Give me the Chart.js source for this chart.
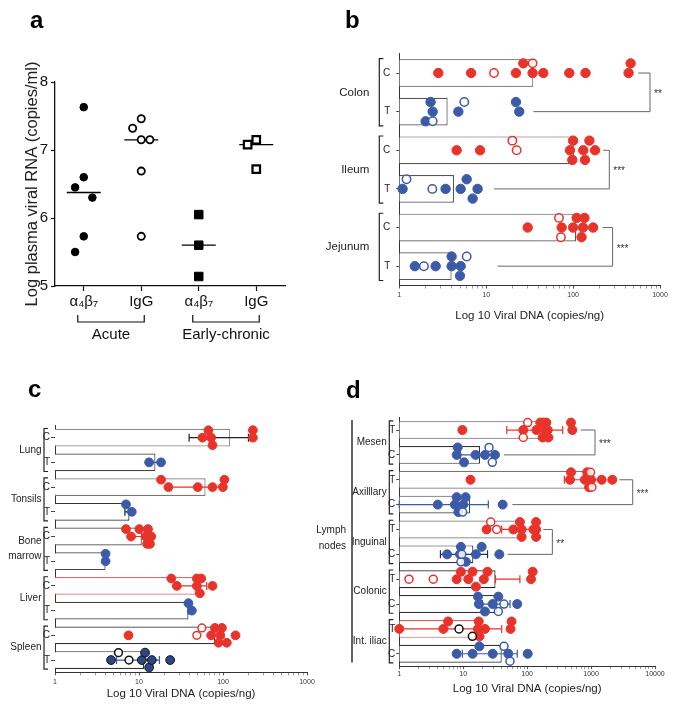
<!DOCTYPE html>
<html>
<head>
<meta charset="utf-8">
<script src="https://cdn.jsdelivr.net/npm/chart.js@4.4.1/dist/chart.umd.min.js"></script>
<style>
  html, body { margin: 0; padding: 0; background: #fff; }
  body { width: 678px; height: 714px; position: relative; overflow: hidden; }
  canvas { position: absolute; }
</style>
</head>
<body>
<canvas id="chartA" width="340" height="345" style="left:0px;top:0px"></canvas>
<canvas id="chartB" width="358" height="345" style="left:320px;top:0px"></canvas>
<canvas id="chartC" width="340" height="364" style="left:0px;top:350px"></canvas>
<canvas id="chartD" width="378" height="364" style="left:300px;top:350px"></canvas>
<script>
/* ===========================
   DATA
=========================== */
// a) plasma viral RNA (log copies/ml)
const aCategories = ["α₄β₇", "IgG", "α₄β₇", "IgG"];
const aPhases = ["Acute", "Early-chronic"];
const aYTicks = [5, 6, 7, 8];
const aAcuteA4b7 = [7.63, 6.6, 6.45, 6.3, 5.73, 5.5];
const aAcuteIgG = [7.46, 7.32, 7.15, 7.15, 6.69, 5.73];
const aChronicA4b7 = [6.05, 5.6, 5.14];
const aChronicIgG = [7.15, 7.08, 6.72];

// b) gut tissues (copies/ng)
const bRows = ["C", "T", "C", "T", "C", "T"];
const bGroups = ["Colon", "Ileum", "Jejunum"];
const bTicks = [1, 10, 100, 1000];
const bBars = [34.8, 3.6, 102, 4.26, 108, 4.0];
const bFilled = [
  [2.81, 6.7, 22, 26.7, 34.2, 45.4, 90.4, 139, 435, 459],
  [2.42, 2.29, 2.01, 4.78, 24, 22],
  [4.57, 8.5, 92, 100, 98, 131, 154, 137, 179],
  [1.09, 3.41, 5.08, 7.96, 5.96, 6.98],
  [30, 73.8, 100, 110, 125, 130, 170, 135],
  [1.51, 2.62, 4.0, 4.0, 5.08, 4.99]
];
const bOpen = [[12.3, 34.2], [2.42, 5.6], [22.4, 20], [1.21, 2.4], [68.8, 72.5], [1.92, 5.96]];
const bSigRows = [[0, 1], [2, 3], [4, 5]];
const bSigFrom = [[562, 34.8], [222, 12.3], [219, 13.5]];
const bSigTo = [767, 261, 285];
const bSigText = ["**", "***", "***"];

// c) other tissues (copies/ng)
const cRows = ["C", "T", "C", "T", "C", "T", "C", "T", "C", "T"];
const cGroups = ["Lung", "Tonsils", ["Bone", "marrow"], "Liver", "Spleen"];
const cTicks = [1, 10, 100, 1000];
const cBars = [122, 15.7, 62, 7.7, 10.8, 4.0, 47.5, 38.8, 80.7, 11.5];
const cFilled = [
  [72.3, 67, 57, 75, 227, 227],
  [13.2, 18.3],
  [22.4, 18.3, 50, 75, 99.6, 104],
  [8.2, 7.0],
  [8.05, 7.0, 10.1, 12, 12.8, 13.5, 14, 12.5],
  [4.0, 4.0],
  [28.2, 24.2, 48.8, 55, 53, 75, 48.8],
  [42.6, 38.8],
  [7.5, 72.3, 80, 88.5, 93, 97, 111, 141],
  [4.65, 10.8, 11.8, 13.2, 14.2, 23.5]
];
const cOpen = [[], [], [], [], [], [], [], [], [48.8, 56], [5.7, 7.6]];
const cErr = [[39.5, 201], [12.5, 18.5], [24, 100], [6.8, 8.2], [7.8, 12.5], null, [28, 64], [38.5, 43], null, [5.4, 17.5]];

// d) lymph nodes (copies/ng)
const dRows = ["T", "C", "T", "C", "T", "C", "T", "C", "T", "C"];
const dGroups = ["Mesen", "Axilllary", "Inguinal", "Colonic", "Int. iliac"];
const dTicks = [1, 10, 100, 1000, 10000];
const dBars = [169, 18.3, 906, 12.8, 84, 14.4, 32, 34, 17.9, 40];
const dFilled = [
  [9.7, 87, 140, 160, 175, 190, 200, 215, 180, 210, 509, 485],
  [7.9, 8.2, 10.3, 15.6, 21.9, 31.4],
  [13, 468, 485, 800, 870, 930, 1000, 1465, 2150],
  [4.0, 7.4, 7.9, 8.4, 10, 10.9, 41.4],
  [23.2, 60.8, 77, 82, 82, 125, 138, 138, 138],
  [5.6, 8.9, 9.2, 11, 15.8, 19.4, 36.7],
  [7.9, 9.2, 12, 14, 15.8, 21, 24, 115, 122],
  [17.6, 17.0, 21.9, 28.9, 35.4, 70],
  [1.0, 4.9, 5.8, 17, 17.5, 18, 21.9, 55, 57],
  [7.9, 14, 17.9, 28.9, 50.7, 102]
];
const dOpen = [[102, 87], [25.3, 28.5], [980, 1030], [9.8], [26.9, 33.3], [9.2, 9.5], [1.42, 3.4], [35.4, 43.4], [8.6, 13.9], [43.4, 53.9]];
const dErr = [[48, 360], [9, 28], [382, 1430], [1, 24.7], [40, 125], [4.4, 24], [32, 77], [20, 54], [1, 40], [9.7, 70]];
const dSigRows = [[0, 1], [2, 3], [4, 5]];
const dSigFrom = [[687, 43.4], [2768, 58.6], [179, 49.5]];
const dSigTo = [1152, 4478, 248];
const dSigText = ["***", "***", "**"];

/* ===========================
   STYLE
=========================== */
const SANS = "'Liberation Sans', Arial, sans-serif";
const RED = "#e8332b";
const BLUE = "#3b5ba8";
const NAVY = "#2b4886";
const INK = "#222";

Chart.defaults.font.family = SANS;
Chart.defaults.color = INK;
Chart.defaults.animation = false;

// spread overlapping dots over three lanes (centre, one side, other side)
function pickLanes(values, gap) {
  const order = [0, -1, 1];
  const taken = [[], [], []];
  return values.map(v => {
    let pick = 0, room = -1;
    for (let k = 0; k < order.length; k++) {
      let near = Infinity;
      taken[k].forEach(w => { near = Math.min(near, Math.abs(v - w)); });
      if (near >= gap) { pick = k; break; }
      if (near > room) { room = near; pick = k; }
    }
    taken[pick].push(v);
    return order[pick];
  });
}

function median(arr) {
  const s = [...arr].sort((p, q) => p - q);
  const m = Math.floor(s.length / 2);
  return s.length % 2 ? s[m] : (s[m - 1] + s[m]) / 2;
}

function logTicks(labels) {
  const out = [];
  for (let i = 0; i < labels.length - 1; i++) {
    for (let m = 1; m < 10; m++) out.push({ value: labels[i] * m });
  }
  out.push({ value: labels[labels.length - 1] });
  return out;
}

function drawLetter(ctx, letter, x, y) {
  ctx.save();
  ctx.font = "bold 24px " + SANS;
  ctx.fillStyle = "#000";
  ctx.textBaseline = "alphabetic";
  ctx.fillText(letter, x, y);
  ctx.restore();
}

/* ===========================
   PANEL a
=========================== */
function swarmX(values, cat) {
  const lanes = pickLanes(values, 0.35);
  return values.map((v, i) => ({ x: cat + lanes[i] * 0.15, y: v }));
}

const aExtras = {
  id: "aExtras",
  afterDraw(chart) {
    const { ctx, chartArea, scales: { x } } = chart;
    drawLetter(ctx, "a", 30, 28);
    ctx.save();
    ctx.strokeStyle = "#111";
    ctx.lineWidth = 1.2;
    ctx.fillStyle = "#111";
    ctx.font = "15px " + SANS;
    ctx.textAlign = "center";
    ctx.textBaseline = "middle";
    aPhases.forEach((phase, p) => {
      const x1 = x.getPixelForValue(2 * p + 1) - 6;
      const x2 = x.getPixelForValue(2 * p + 2) + 3;
      const top = chartArea.bottom + 29, low = chartArea.bottom + 36;
      ctx.beginPath();
      ctx.moveTo(x1, top); ctx.lineTo(x1, low); ctx.lineTo(x2, low); ctx.lineTo(x2, top);
      ctx.stroke();
      ctx.fillText(phase, (x1 + x2) / 2, chartArea.bottom + 49);
    });
    ctx.restore();
  }
};

new Chart(document.getElementById("chartA"), {
  type: "scatter",
  data: {
    datasets: [
      { data: swarmX(aAcuteA4b7, 1), pointStyle: "circle", pointRadius: 3.8,
        pointBackgroundColor: "#000", pointBorderColor: "#000", pointBorderWidth: 1, clip: false },
      { data: swarmX(aAcuteIgG, 2), pointStyle: "circle", pointRadius: 3.6,
        pointBackgroundColor: "#fff", pointBorderColor: "#000", pointBorderWidth: 1.8, clip: false },
      { data: swarmX(aChronicA4b7, 3), pointStyle: "rect", pointRadius: 6,
        pointBackgroundColor: "#000", pointBorderColor: "#000", pointBorderWidth: 1, clip: false },
      { data: swarmX(aChronicIgG, 4), pointStyle: "rect", pointRadius: 5.3,
        pointBackgroundColor: "#fff", pointBorderColor: "#000", pointBorderWidth: 2.2, clip: false },
      { data: [aAcuteA4b7, aAcuteIgG, aChronicA4b7, aChronicIgG].map((g, i) => ({ x: i + 1, y: median(g) })),
        pointStyle: "line", pointRadius: 17, pointBorderColor: "#000", pointBorderWidth: 1.3, clip: false }
    ]
  },
  options: {
    responsive: false,
    devicePixelRatio: 1,
    layout: { padding: { left: 0, top: 82, right: 55, bottom: 0 } },
    plugins: { legend: { display: false }, tooltip: { enabled: false } },
    scales: {
      x: {
        type: "linear", min: 0.5, max: 4.5,
        afterBuildTicks: s => { s.ticks = aCategories.map((_, i) => ({ value: i + 1 })); },
        afterFit: s => { s.height = 59; },
        ticks: { callback: v => aCategories[v - 1], autoSkip: false, maxRotation: 0,
                 font: { size: 15 }, color: "#111", padding: 2 },
        grid: { display: true, drawOnChartArea: false, tickLength: 5, color: "#111", tickWidth: 1.2 },
        border: { display: true, color: "#111", width: 1.3 }
      },
      y: {
        type: "linear", min: 5, max: 8,
        afterBuildTicks: s => { s.ticks = aYTicks.map(v => ({ value: v })); },
        afterFit: s => { s.width = 55; },
        ticks: { font: { size: 15 }, color: "#111", padding: 3 },
        grid: { display: true, drawOnChartArea: false, tickLength: 4, color: "#111", tickWidth: 1.2 },
        border: { display: true, color: "#111", width: 1.3 },
        title: { display: true, text: "Log plasma viral RNA (copies/ml)", color: "#222",
                 font: { size: 16.5 }, padding: { top: 23, bottom: 0 } }
      }
    }
  },
  plugins: [aExtras]
});

/* ===========================
   PANELS b, c, d (dot plots on log axis)
=========================== */
function buildDotPanel(canvasId, p) {
  const datasets = [];
  // 1) mean bars, drawn underneath
  datasets.push({
    type: "bar",
    data: p.bars.map((v, i) => ({ x: v, y: i })),
    backgroundColor: "#fff",
    borderColor: p.barBorder,
    borderWidth: 1.2,
    barPercentage: 0.72,
    categoryPercentage: 1,
    order: 10
  });
  // 2) individual animals, filled and open symbols
  p.rows.forEach((row, i) => {
    const all = p.filled[i].concat(p.open[i]);
    const lanes = pickLanes(all.map(Math.log10), p.gap);
    const pts = all.map((v, k) => ({ x: v, y: i + lanes[k] * p.laneStep }));
    const nFilled = p.filled[i].length;
    datasets.push({
      type: "scatter", data: pts.slice(0, nFilled), pointRadius: p.radius,
      pointBackgroundColor: p.dotColor[i], pointBorderColor: p.dotEdge[i], pointBorderWidth: 1,
      clip: false, order: 1
    });
    if (p.open[i].length) {
      datasets.push({
        type: "scatter", data: pts.slice(nFilled), pointRadius: p.radius - 0.5,
        pointBackgroundColor: "rgba(255,255,255,0.85)", pointBorderColor: p.openColor[i], pointBorderWidth: 1.5,
        clip: false, order: 0
      });
    }
  });

  const extras = {
    id: "extras_" + canvasId,
    afterDatasetDraw(chart, args) {
      if (args.index !== 0) return;
      const { ctx, scales: { x, y } } = chart;
      ctx.save();
      ctx.lineWidth = 1.2;
      p.err.forEach((e, i) => {
        if (!e) return;
        const yy = y.getPixelForValue(i);
        const x1 = x.getPixelForValue(e[0]), x2 = x.getPixelForValue(e[1]);
        ctx.strokeStyle = p.errColor[i];
        ctx.beginPath();
        ctx.moveTo(x1, yy); ctx.lineTo(x2, yy);
        ctx.moveTo(x1, yy - 4); ctx.lineTo(x1, yy + 4);
        ctx.moveTo(x2, yy - 4); ctx.lineTo(x2, yy + 4);
        ctx.stroke();
      });
      ctx.restore();
    },
    afterDraw(chart) {
      const { ctx, chartArea, scales: { x, y } } = chart;
      drawLetter(ctx, p.letter[0], p.letter[1], p.letter[2]);
      ctx.save();
      // group brackets and names
      const bx = chartArea.left - p.bracketGap;
      ctx.strokeStyle = "#222";
      ctx.lineWidth = 1.2;
      ctx.fillStyle = INK;
      ctx.font = p.groupFont + "px " + SANS;
      ctx.textAlign = "right";
      ctx.textBaseline = "middle";
      p.groups.forEach((name, g) => {
        const top = y.getPixelForValue(2 * g - 0.37);
        const bot = y.getPixelForValue(2 * g + 1.37);
        ctx.beginPath();
        ctx.moveTo(bx + 4, top); ctx.lineTo(bx, top); ctx.lineTo(bx, bot); ctx.lineTo(bx + 4, bot);
        ctx.stroke();
        const mid = (y.getPixelForValue(2 * g) + y.getPixelForValue(2 * g + 1)) / 2;
        const lines = Array.isArray(name) ? name : [name];
        lines.forEach((t, k) => {
          ctx.fillText(t, bx - p.labelGap, mid + (k - (lines.length - 1) / 2) * 15);
        });
      });
      // outer label (lymph nodes)
      if (p.outer) {
        const ox = p.outer.x;
        ctx.lineWidth = 1.4;
        ctx.beginPath();
        ctx.moveTo(ox, y.getPixelForValue(-0.4));
        ctx.lineTo(ox, y.getPixelForValue(p.rows.length - 0.65));
        ctx.stroke();
        const mid = (y.getPixelForValue(0) + y.getPixelForValue(p.rows.length - 1)) / 2 - 4;
        p.outer.lines.forEach((t, k) => ctx.fillText(t, ox - 6, mid + (k - 0.5) * 16));
      }
      // significance brackets
      ctx.strokeStyle = "#666";
      ctx.lineWidth = 1;
      ctx.textAlign = "left";
      ctx.font = "10px " + SANS;
      ctx.fillStyle = "#333";
      p.sigRows.forEach((pair, k) => {
        const y0 = y.getPixelForValue(pair[0]), y1 = y.getPixelForValue(pair[1]);
        const xa = x.getPixelForValue(p.sigFrom[k][0]), xb = x.getPixelForValue(p.sigFrom[k][1]);
        const xt = x.getPixelForValue(p.sigTo[k]);
        ctx.beginPath();
        ctx.moveTo(xa, y0); ctx.lineTo(xt, y0); ctx.lineTo(xt, y1); ctx.lineTo(xb, y1);
        ctx.stroke();
        ctx.fillText(p.sigText[k], xt + 4, (y0 + y1) / 2 + 2);
      });
      ctx.restore();
    }
  };

  return new Chart(document.getElementById(canvasId), {
    type: "bar",
    data: { datasets },
    options: {
      responsive: false,
      devicePixelRatio: 1,
      indexAxis: "y",
      layout: { padding: { left: 0, top: p.box.top, right: p.box.right, bottom: 0 } },
      plugins: { legend: { display: false }, tooltip: { enabled: false } },
      scales: {
        x: {
          type: "logarithmic", min: p.xTicks[0], max: p.xTicks[p.xTicks.length - 1],
          afterBuildTicks: s => { s.ticks = logTicks(p.xTicks); },
          afterFit: s => { s.height = p.box.xAxisH; },
          ticks: { callback: v => (p.xTicks.includes(v) ? String(v) : ""), autoSkip: false, maxRotation: 0,
                   font: { size: 7 }, color: "#333", padding: p.box.tickPad },
          grid: { display: true, drawOnChartArea: false, tickLength: 3, color: "#555",
                  tickWidth: c => (c.tick && p.xTicks.includes(c.tick.value) ? 1.1 : 0.6) },
          border: { display: true, color: "#333", width: 1 },
          title: { display: true, text: "Log 10 Viral DNA (copies/ng)", color: "#222",
                   font: { size: 11.5 }, padding: { top: 0, bottom: p.box.titlePad } }
        },
        y: {
          type: "linear", min: -0.5, max: p.rows.length - 0.5, reverse: true, offset: false,
          afterBuildTicks: s => { s.ticks = p.rows.map((_, i) => ({ value: i })); },
          afterFit: s => { s.width = p.box.yAxisW; },
          ticks: { callback: v => p.rows[v], autoSkip: false, font: { size: 10 },
                   color: INK, padding: p.rowPad },
          grid: { display: true, drawOnChartArea: false, offset: false, tickLength: p.rowTick, color: "#444" },
          border: { display: true, color: "#333", width: 1 }
        }
      }
    },
    plugins: [extras]
  });
}

const rowColour = (rows, redRow) => rows.map(r => (r === redRow ? RED : BLUE));

buildDotPanel("chartB", {
  letter: ["b", 25, 28],
  rows: bRows, groups: bGroups, bars: bBars, filled: bFilled, open: bOpen,
  err: [], errColor: [],
  sigRows: bSigRows, sigFrom: bSigFrom, sigTo: bSigTo, sigText: bSigText,
  xTicks: bTicks,
  dotColor: rowColour(bRows, "C"), dotEdge: rowColour(bRows, "C"), openColor: rowColour(bRows, "C"),
  barBorder: ["#8a8a8a", "#555", "#555", "#555", "#555", "#555"],
  box: { yAxisW: 79.3, top: 53.7, right: 18, xAxisH: 59.5, titlePad: 22, tickPad: 2 },
  rowTick: 3, rowPad: 6, bracketGap: 20, labelGap: 10, groupFont: 11.5,
  radius: 4.7, gap: 0.1, laneStep: 0.25
});

const cDots = rowColour(cRows, "C");
buildDotPanel("chartC", {
  letter: ["c", 28, 47],
  rows: cRows, groups: cGroups, bars: cBars, filled: cFilled, open: cOpen,
  err: cErr, errColor: ["#222", BLUE, RED, "#222", RED, null, RED, BLUE, null, BLUE],
  sigRows: [], sigFrom: [], sigTo: [], sigText: [],
  xTicks: cTicks,
  dotColor: cDots.map((c, i) => (i === 9 ? NAVY : c)),
  dotEdge: cDots.map((c, i) => (i === 9 ? "#111" : c)),
  openColor: cDots.map((c, i) => (i === 9 ? "#111" : c)),
  barBorder: ["#8a8a8a", "#444", "#777", "#333", "#444", "#444", "#e06a6a", "#444", "#333", "#333"],
  box: { yAxisW: 55, top: 75.3, right: 33, xAxisH: 41.6, titlePad: 12.9, tickPad: 2.8 },
  rowTick: 4, rowPad: 1, bracketGap: 11, labelGap: 2.5, groupFont: 10,
  radius: 4.4, gap: 0.1, laneStep: 0.3
});

const dDots = rowColour(dRows, "T");
buildDotPanel("chartD", {
  letter: ["d", 46, 48],
  rows: dRows, groups: dGroups, bars: dBars, filled: dFilled, open: dOpen,
  err: dErr, errColor: [RED, BLUE, RED, BLUE, RED, "#1f2f66", RED, BLUE, RED, BLUE],
  sigRows: dSigRows, sigFrom: dSigFrom, sigTo: dSigTo, sigText: dSigText,
  xTicks: dTicks,
  dotColor: dDots, dotEdge: dDots,
  openColor: dDots.map((c, i) => (i === 8 ? "#111" : c)),
  barBorder: ["#999", "#333", "#777", "#444", "#777", "#333", "#222", "#333", "#e05a5a", "#333"],
  box: { yAxisW: 99.3, top: 67.6, right: 23, xAxisH: 47.8, titlePad: 17.9, tickPad: 1 },
  rowTick: 3, rowPad: 1, bracketGap: 10, labelGap: 2.6, groupFont: 10,
  radius: 4.5, gap: 0.13, laneStep: 0.3,
  outer: { x: 52, lines: ["Lymph", "nodes"] }
});
</script>
</body>
</html>
